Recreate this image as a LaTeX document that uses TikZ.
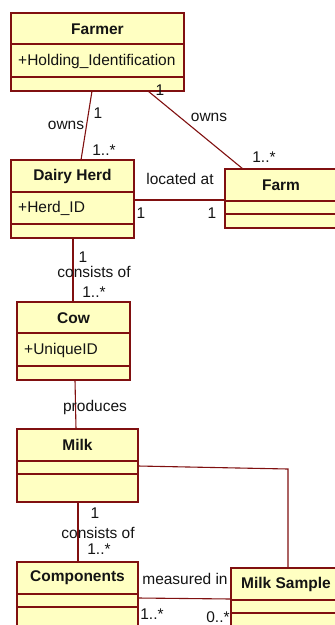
\documentclass[tikz,border=0pt]{standalone}
\usepackage{fontspec}
\setmainfont{Liberation Sans}
\usetikzlibrary{calc}
\definecolor{boxfill}{RGB}{255,255,194}
\definecolor{boxline}{RGB}{128,16,16}
\definecolor{txt}{RGB}{20,20,20}
\begin{document}
\begin{tikzpicture}[x=1pt,y=-1pt,
  cls/.style={draw=boxline,fill=boxfill,line width=1.1pt,rectangle,anchor=north west,inner sep=0pt,outer sep=0pt},
  ttl/.style={font=\fontsize{15.5}{16}\selectfont\bfseries,text=txt,inner sep=0pt},
  attr/.style={font=\fontsize{15.5}{16}\selectfont,text=txt,inner sep=0pt,anchor=west},
  lbl/.style={font=\fontsize{15.5}{16}\selectfont,text=txt,inner sep=0pt},
  con/.style={draw=boxline,line width=1.1pt},
  div/.style={draw=boxline,line width=1.1pt}]
\useasboundingbox (0,0) rectangle (335,625);
% Farmer
\node[cls,minimum width=173pt,minimum height=78pt] (farmer) at (11,13) {};
\draw[div] (11,44) -- (184,44) (11,77) -- (184,77);
\node[ttl] (farmerT) at (97.5,29) {Farmer};
\node[attr] (farmerA) at (18,61) {+Holding\_Identification};
% Dairy Herd
\node[cls,minimum width=123pt,minimum height=78pt] (herd) at (11,160) {};
\draw[div] (11,192) -- (134,192) (11,224) -- (134,224);
\node[ttl] (herdT) at (72.5,176) {Dairy Herd};
\node[attr] (herdA) at (18,208) {+Herd\_ID};
% Farm
\node[cls,minimum width=112pt,minimum height=59pt] (farm) at (225,169) {};
\draw[div] (225,201) -- (337,201) (225,214) -- (337,214);
\node[ttl] (farmT) at (281,185) {Farm};
% Cow
\node[cls,minimum width=113pt,minimum height=78pt] (cow) at (17,302) {};
\draw[div] (17,333) -- (130,333) (17,366) -- (130,366);
\node[ttl] (cowT) at (73.5,318) {Cow};
\node[attr] (cowA) at (24,350) {+UniqueID};
% Milk
\node[cls,minimum width=121pt,minimum height=73pt] (milk) at (17,429) {};
\draw[div] (17,461) -- (138,461) (17,474) -- (138,474);
\node[ttl] (milkT) at (77.5,445) {Milk};
% Components
\node[cls,minimum width=121pt,minimum height=80pt] (comp) at (17,562) {};
\draw[div] (17,594) -- (138,594) (17,607) -- (138,607);
\node[ttl] (compT) at (77.5,578) {Components};
% Milk Sample
\node[cls,minimum width=110pt,minimum height=70pt] (ms) at (231,568) {};
\draw[div] (231,600) -- (341,600) (231,613) -- (341,613);
\node[ttl] (msT) at (286,584) {Milk Sample};
% connectors
\draw[con] ([xshift=81pt]farmer.south west) -- ([xshift=70pt]herd.north west);
\draw[con] ([xshift=137pt]farmer.south west) -- ([xshift=18pt]farm.north west);
\draw[con] ([yshift=-40pt]herd.north east) -- ([yshift=-31pt]farm.north west);
\draw[con] ([xshift=62pt]herd.south west) -- ([xshift=56pt]cow.north west);
\draw[con] ([xshift=58pt]cow.south west) -- ([xshift=59pt]milk.north west);
\draw[con] ([xshift=61pt]milk.south west) -- ([xshift=61pt]comp.north west);
\coordinate (bend) at (288,469);
\draw[con] ([yshift=-37pt]milk.north east) -- (bend) -- ([xshift=57pt]ms.north west);
\draw[con] ([yshift=-36pt]comp.north east) -- ([yshift=-31pt]ms.north west);
% labels
\node[lbl] (l1) at (66,125) {owns};
\node[lbl] (l2) at (98,113) {1};
\node[lbl] (l3) at (104,150) {1..*};
\node[lbl] (l4) at (160,90) {1};
\node[lbl] (l5) at (209,117) {owns};
\node[lbl] (l6) at (264,157) {1..*};
\node[lbl] (l7) at (180,179) {located at};
\node[lbl] (l8) at (141,213) {1};
\node[lbl] (l9) at (212,213) {1};
\node[lbl] (l10) at (83,257) {1};
\node[lbl] (l11) at (94,272) {consists of};
\node[lbl] (l12) at (94,292) {1..*};
\node[lbl] (l13) at (95,407) {produces};
\node[lbl] (l14) at (95,513) {1};
\node[lbl] (l15) at (98,533) {consists of};
\node[lbl] (l16) at (99,549) {1..*};
\node[lbl] (l17) at (185,579) {measured in};
\node[lbl] (l18) at (152,614) {1..*};
\node[lbl] (l19) at (218,617) {0..*};
\end{tikzpicture}
\end{document}
